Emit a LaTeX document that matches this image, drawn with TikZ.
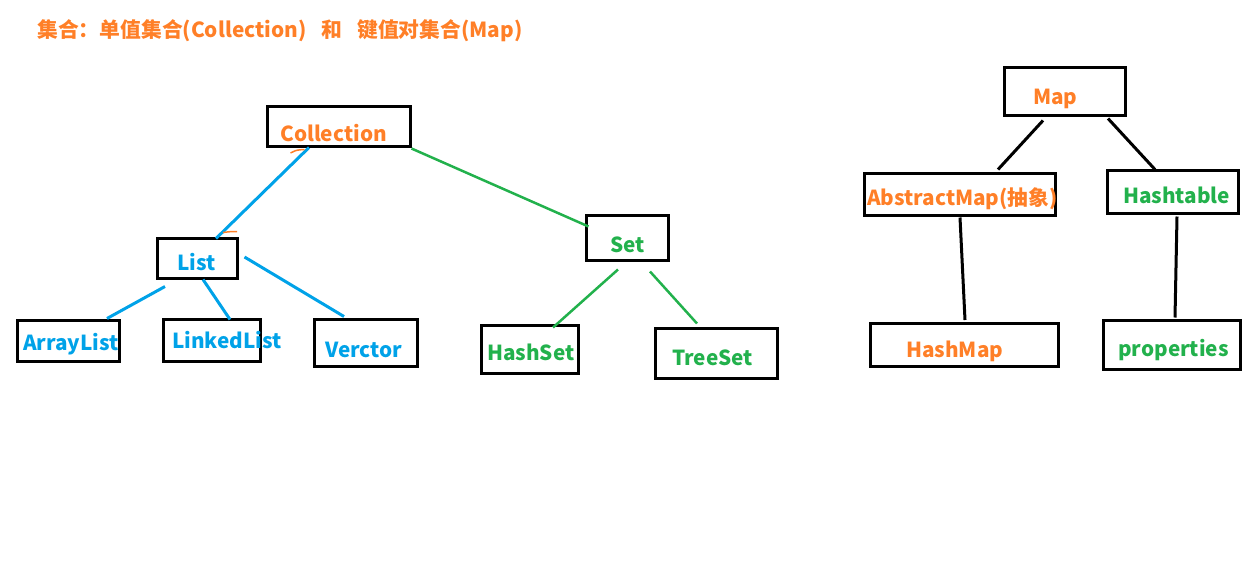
\documentclass[tikz,border=0pt]{standalone}
\usepackage{fontspec}
\setmainfont{Noto Sans CJK SC}
\usetikzlibrary{calc}
\definecolor{corange}{HTML}{FF7F27}
\definecolor{cblue}{HTML}{00A2E8}
\definecolor{cgreen}{HTML}{22B14C}
\tikzset{
  box/.style={draw=black, line width=3pt, inner sep=0pt, rectangle},
  lbl/.style={inner sep=0pt, anchor=base west, font=\fontsize{20.7}{24}\selectfont\bfseries},
  ttl/.style={inner sep=0pt, anchor=base west, font=\fontsize{20.8}{24}\selectfont\bfseries, text=corange},
  bline/.style={draw=cblue, line width=3pt},
  gline/.style={draw=cgreen, line width=2.5pt},
  kline/.style={draw=black, line width=3pt},
  omark/.style={draw=corange, line width=1.5pt}
}
\begin{document}
\begin{tikzpicture}[x=1pt,y=-1pt]
\useasboundingbox (0,0) rectangle (1244,574);
% title
\node[ttl] (title) at (37,37) {集合：单值集合(Collection)\hspace{15pt}和\hspace{15pt}键值对集合(Map)};
% boxes
\node[box, minimum width=143pt, minimum height=40pt] (coll) at (338.5,126) {};
\node[box, minimum width=80pt, minimum height=40pt] (list) at (197,258) {};
\node[box, minimum width=102pt, minimum height=41pt] (arr) at (68,340.5) {};
\node[box, minimum width=97pt, minimum height=42pt] (lnk) at (211.5,340) {};
\node[box, minimum width=103pt, minimum height=47pt] (vec) at (365.5,342.5) {};
\node[box, minimum width=82pt, minimum height=45pt] (set) at (627,237.5) {};
\node[box, minimum width=97pt, minimum height=48pt] (hset) at (529.5,349) {};
\node[box, minimum width=122pt, minimum height=50pt] (tset) at (716,353) {};
\node[box, minimum width=121pt, minimum height=48pt] (map) at (1064.5,91) {};
\node[box, minimum width=191pt, minimum height=42pt] (amap) at (959.5,194) {};
\node[box, minimum width=131pt, minimum height=43pt] (htab) at (1172.5,191.5) {};
\node[box, minimum width=188pt, minimum height=43pt] (hmap) at (964,344.5) {};
\node[box, minimum width=137pt, minimum height=49pt] (prop) at (1171.5,344.5) {};
% labels
\node[lbl, text=corange] (collT) at (280,141.5) {Collection};
\node[lbl, text=cblue] (listT) at (177,270) {List};
\node[lbl, text=cblue] (arrT) at (23,350) {ArrayList};
\node[lbl, text=cblue] (lnkT) at (172,348) {LinkedList};
\node[lbl, text=cblue] (vecT) at (325,357) {Verctor};
\node[lbl, text=cgreen] (setT) at (610,252) {Set};
\node[lbl, text=cgreen] (hsetT) at (487,360) {HashSet};
\node[lbl, text=cgreen] (tsetT) at (672,365) {TreeSet};
\node[lbl, text=corange] (mapT) at (1033,104) {Map};
\node[lbl, text=corange] (amapT) at (867,205) {AbstractMap(抽象)};
\node[lbl, text=cgreen] (htabT) at (1123,203) {Hashtable};
\node[lbl, text=corange] (hmapT) at (906,357) {HashMap};
\node[lbl, text=cgreen] (propT) at (1118,356) {properties};
% connectors
\draw[bline] ($(coll.south)+(-29.5,0)$) -- ($(list.north)+(19,2)$);
\draw[gline] ($(coll.south east)+(0,1)$) -- ($(set.north west)+(4,13)$);
\draw[bline] ($(list.south)+(-32,7)$) -- ($(arr.north)+(39,0)$);
\draw[bline] ($(list.south)+(6,0)$) -- ($(lnk.north)+(18.5,2)$);
\draw[bline] ($(list.east)+(6,-1)$) -- ($(vec.north)+(-21.5,-1)$);
\draw[gline] ($(set.south)+(-9,8)$) -- ($(hset.north)+(23.5,4)$);
\draw[gline] ($(set.south)+(23,10)$) -- ($(tset.north)+(-19,-3)$);
\draw[kline] ($(map.south)+(-21.5,4)$) -- ($(amap.north)+(38.5,-2)$);
\draw[kline] ($(map.south)+(43.5,2)$) -- ($(htab.north)+(-17.5,1)$);
\draw[kline] ($(amap.south)+(0.5,1)$) -- ($(hmap.north)+(1,-1.5)$);
\draw[kline] ($(htab.south)+(4.5,2)$) -- ($(prop.north)+(3.5,-1)$);
% small orange marks
\draw[omark] ($(coll.south)+(-48,5.5)$) .. controls ($(coll.south)+(-42,2.5)$) .. ($(coll.south)+(-34,2)$);
\draw[omark] ($(list.north)+(26,-4)$) .. controls ($(list.north)+(34,-5)$) .. ($(list.north)+(40,-5)$);
\end{tikzpicture}
\end{document}
